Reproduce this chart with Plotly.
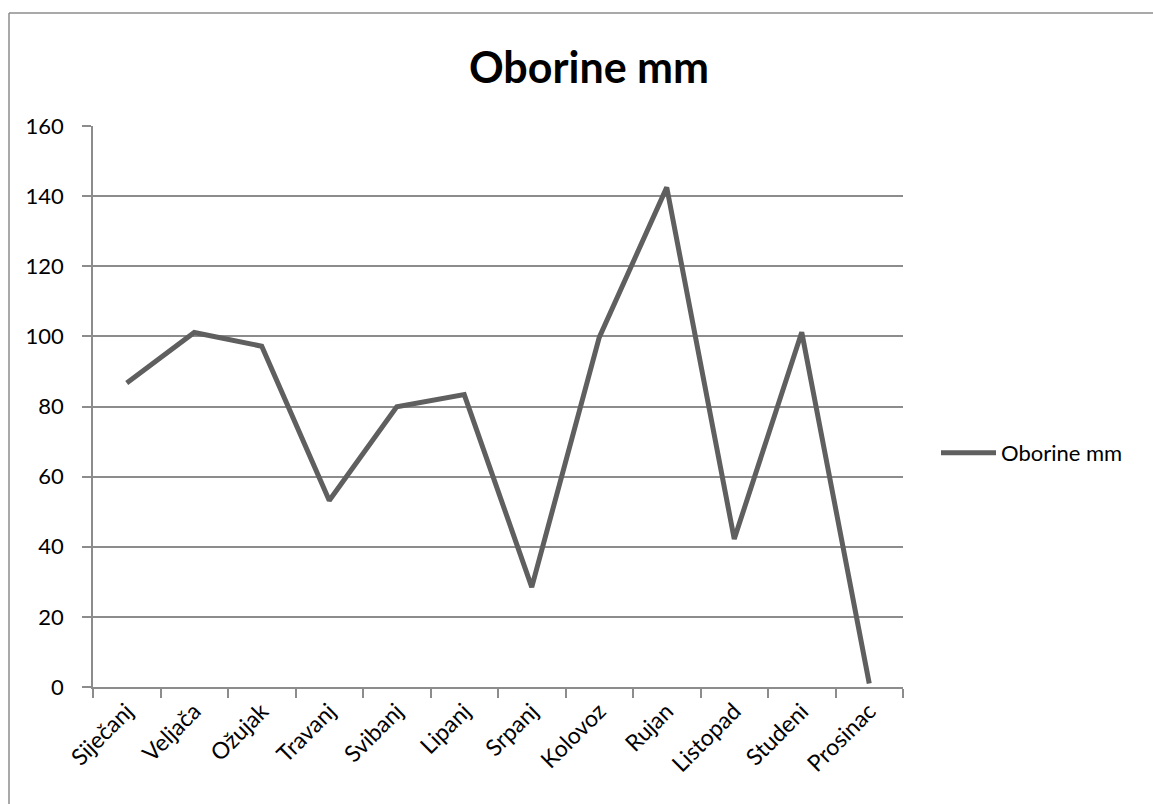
import plotly.graph_objects as go

months = ["Siječanj", "Veljača", "Ožujak", "Travanj", "Svibanj", "Lipanj",
          "Srpanj", "Kolovoz", "Rujan", "Listopad", "Studeni", "Prosinac"]
oborine = [86.7, 101.1, 97.2, 53.2, 79.9, 83.4, 28.5, 99.7, 142.5, 42.2, 101.2, 1.0]
series_name = "Oborine mm"
y_ticks = [0, 20, 40, 60, 80, 100, 120, 140, 160]

W, H = 1153, 804
L, R, T, B = 93, 903, 126, 687

fig = go.Figure()
fig.add_trace(go.Scatter(
    x=months, y=oborine, mode="lines", name=series_name,
    line=dict(color="#5f5f5f", width=5),
))

font_family = "Lato, Open Sans, sans-serif"
grid_col = "#8c8c8c"

def px_x(p):
    return (p - L) / (R - L)

def px_y(p):
    return (B - p) / (B - T)

border = dict(color="#8c8c8c", width=1.5)

fig.update_layout(
    width=W, height=H,
    margin=dict(l=L, r=W - R, t=T, b=H - B, autoexpand=False),
    paper_bgcolor="white", plot_bgcolor="white",
    font=dict(family=font_family, size=22, color="black"),
    title=dict(text="<b>Oborine mm</b>", x=589 / W, xanchor="center",
               y=1 - 68 / H, yanchor="middle", yref="container",
               font=dict(size=43, family=font_family, color="black")),
    showlegend=True,
    legend=dict(x=px_x(936), y=px_y(453), xanchor="left", yanchor="middle",
                font=dict(size=22), bgcolor="rgba(0,0,0,0)", itemwidth=55),
    xaxis=dict(type="category", range=[-0.5, 11.5], tickson="boundaries",
               ticks="outside", ticklen=9, tickcolor=grid_col, tickwidth=1.5,
               showline=True, linecolor=grid_col, linewidth=1.5,
               showgrid=False, tickangle=-45, tickfont=dict(size=23), fixedrange=True),
    yaxis=dict(range=[0, 160], tickvals=y_ticks, ticks="outside", ticklen=9,
               tickcolor=grid_col, tickwidth=1.5, showline=True, linecolor=grid_col,
               linewidth=1.5, showgrid=True, gridcolor=grid_col, gridwidth=1.5,
               zeroline=False, tickfont=dict(size=22), ticklabelstandoff=14),
    shapes=[
        dict(type="line", xref="paper", yref="paper",
             x0=px_x(9), x1=px_x(W), y0=px_y(13), y1=px_y(13), line=border, layer="below"),
        dict(type="line", xref="paper", yref="paper",
             x0=px_x(9), x1=px_x(9), y0=px_y(13), y1=px_y(H), line=border, layer="below"),
    ],
)

fig.write_html(
    "out.html",
    config={"displayModeBar": False},
    post_script="document.body.style.margin='0';document.body.style.overflow='hidden';",
)
